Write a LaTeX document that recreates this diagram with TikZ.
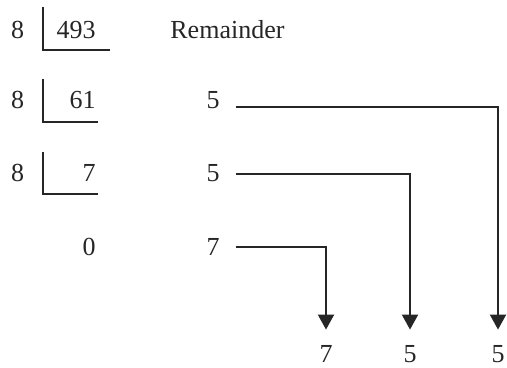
\documentclass[tikz,border=0pt]{standalone}
\usepackage{fontspec}
\setmainfont{Liberation Serif}
\usetikzlibrary{arrows.meta}

\begin{document}
\begin{tikzpicture}[
  x=0.5pt, y=-0.5pt,
  >={Triangle[length=7.5pt, width=8pt]},
  num/.style={font=\fontsize{13}{15}\selectfont, inner sep=0pt, text=black!85},
  rem/.style={num, inner xsep=8pt},
  res/.style={num, inner ysep=7.5pt},
  bar/.style={line width=1pt, black!85},
]

\useasboundingbox (0,0) rectangle (507,368);

% === Divisors ===
\node[num, anchor=base] (d1) at (17.5,39) {8};
\node[num, anchor=base] (d2) at (17.5,109) {8};
\node[num, anchor=base] (d3) at (17.5,182) {8};

% Division brackets
\draw[bar] (43,7) |- (110,50);
\draw[bar] (43,79) |- (98,122);
\draw[bar] (43,152) |- (98,194);

% === Quotients ===
\node[num, anchor=base east] (q1) at (96,39) {493};
\node[num, anchor=base east] (q2) at (96,109) {61};
\node[num, anchor=base east] (q3) at (96,182) {7};
\node[num, anchor=base east] (q4) at (96,256) {0};

\node[num, anchor=base west] (head) at (170,39) {Remainder};

% === Remainders ===
\node[rem, anchor=base] (r1) at (213,109) {5};
\node[rem, anchor=base] (r2) at (213,182) {5};
\node[rem, anchor=base] (r3) at (213,256) {7};

% Result read from bottom up
\node[res, anchor=base] (b1) at (326,362) {7};
\node[res, anchor=base] (b2) at (410,362) {5};
\node[res, anchor=base] (b3) at (498,362) {5};

% === Arrows ===
\draw[->, bar] ([yshift=1pt]r1.base east) -| (b3.north);
\draw[->, bar] (r2.east) -| (b2.north);
\draw[->, bar] (r3.east) -| (b1.north);

\end{tikzpicture}
\end{document}
